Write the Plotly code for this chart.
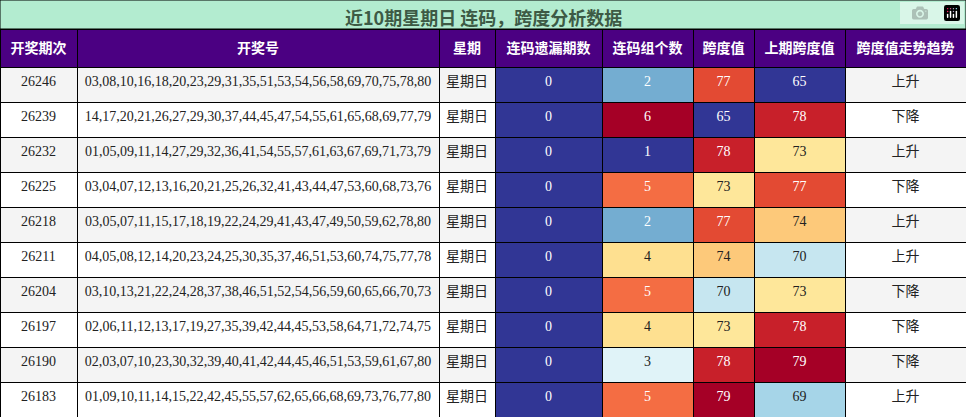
import plotly.graph_objects as go

issues = ["26246", "26239", "26232", "26225", "26218", "26211", "26204", "26197", "26190", "26183"]
draws = [
    "03,08,10,16,18,20,23,29,31,35,51,53,54,56,58,69,70,75,78,80",
    "14,17,20,21,26,27,29,30,37,44,45,47,54,55,61,65,68,69,77,79",
    "01,05,09,11,14,27,29,32,36,41,54,55,57,61,63,67,69,71,73,79",
    "03,04,07,12,13,16,20,21,25,26,32,41,43,44,47,53,60,68,73,76",
    "03,05,07,11,15,17,18,19,22,24,29,41,43,47,49,50,59,62,78,80",
    "04,05,08,12,14,20,23,24,25,30,35,37,46,51,53,60,74,75,77,78",
    "03,10,13,21,22,24,28,37,38,46,51,52,54,56,59,60,65,66,70,73",
    "02,06,11,12,13,17,19,27,35,39,42,44,45,53,58,64,71,72,74,75",
    "02,03,07,10,23,30,32,39,40,41,42,44,45,46,51,53,59,61,67,80",
    "01,09,10,11,14,15,22,42,45,55,57,62,65,66,68,69,73,76,77,80",
]
weekday = ["星期日"] * 10
miss = [0] * 10
groups = [2, 6, 1, 5, 2, 4, 5, 4, 3, 5]
span = [77, 65, 78, 73, 77, 74, 70, 73, 78, 79]
prev_span = [65, 78, 73, 77, 74, 70, 73, 78, 79, 69]
trend = ["上升", "下降", "上升", "下降", "上升", "上升", "下降", "下降", "下降", "上升"]

headers = ["开奖期次", "开奖号", "星期", "连码遗漏期数", "连码组个数", "跨度值", "上期跨度值", "跨度值走势趋势"]

group_colors = {0: "#313695", 1: "#313695", 2: "#74add1", 3: "#e0f3f8", 4: "#fee090",
                5: "#f46d43", 6: "#a50026"}
span_colors = {65: "#313695", 69: "#a6d5e8", 70: "#c6e6f0", 73: "#fee79a", 74: "#fdc97a",
               77: "#e34a33", 78: "#c8202a", 79: "#a50026"}
dark_bg = {"#313695", "#74add1", "#f46d43", "#a50026", "#e34a33", "#c8202a"}


def txt(cols):
    return ["white" if c in dark_bg else "#222" for c in cols]


stripe = ["#f4f4f4" if i % 2 == 0 else "white" for i in range(10)]
miss_c = [group_colors[0]] * 10
grp_c = [group_colors[g] for g in groups]
span_c = [span_colors[s] for s in span]
prev_c = [span_colors[s] for s in prev_span]

fig = go.Figure(go.Table(
    columnwidth=[77, 362, 56, 107, 91, 61, 91, 121],
    header=dict(
        values=["<b>%s</b>" % h for h in headers],
        fill_color="#4b0082", line_color="black",
        font=dict(color="white", size=14, family="Noto Sans CJK SC"),
        align="center", height=38,
    ),
    cells=dict(
        values=[issues, draws, weekday, miss, groups, span, prev_span, trend],
        fill_color=[stripe, stripe, stripe, miss_c, grp_c, span_c, prev_c, stripe],
        line_color="black",
        font=dict(
            color=["#222", "#222", "#222", txt(miss_c), txt(grp_c), txt(span_c), txt(prev_c), "#222"],
            size=[14, 14, 14, 14, 14, 14, 14, 14],
            family=["Liberation Serif", "Liberation Serif", "Noto Sans CJK SC", "Liberation Serif",
                    "Liberation Serif", "Liberation Serif", "Liberation Serif", "Noto Sans CJK SC"],
        ),
        align="center", height=35,
    ),
    domain=dict(x=[0, 1], y=[0, 1 - 29 / 417]),
))

fig.add_shape(type="rect", xref="paper", yref="paper", x0=0, x1=1, y0=1 - 29 / 417, y1=1,
              fillcolor="#b3ecd0", line=dict(color="black", width=1))
fig.add_annotation(text="<b>近10期星期日 连码，跨度分析数据</b>", xref="paper", yref="paper",
                   x=0.5, y=1, yanchor="top", yshift=-2, showarrow=False,
                   font=dict(size=18, color="#3d5a45", family="Noto Sans CJK SC"))

fig.update_layout(width=966, height=417, margin=dict(l=0, r=0, t=0, b=0),
                  paper_bgcolor="white")
fig.write_html("out.html",
               post_script="document.body.style.margin='0';document.body.style.overflow='hidden';")
